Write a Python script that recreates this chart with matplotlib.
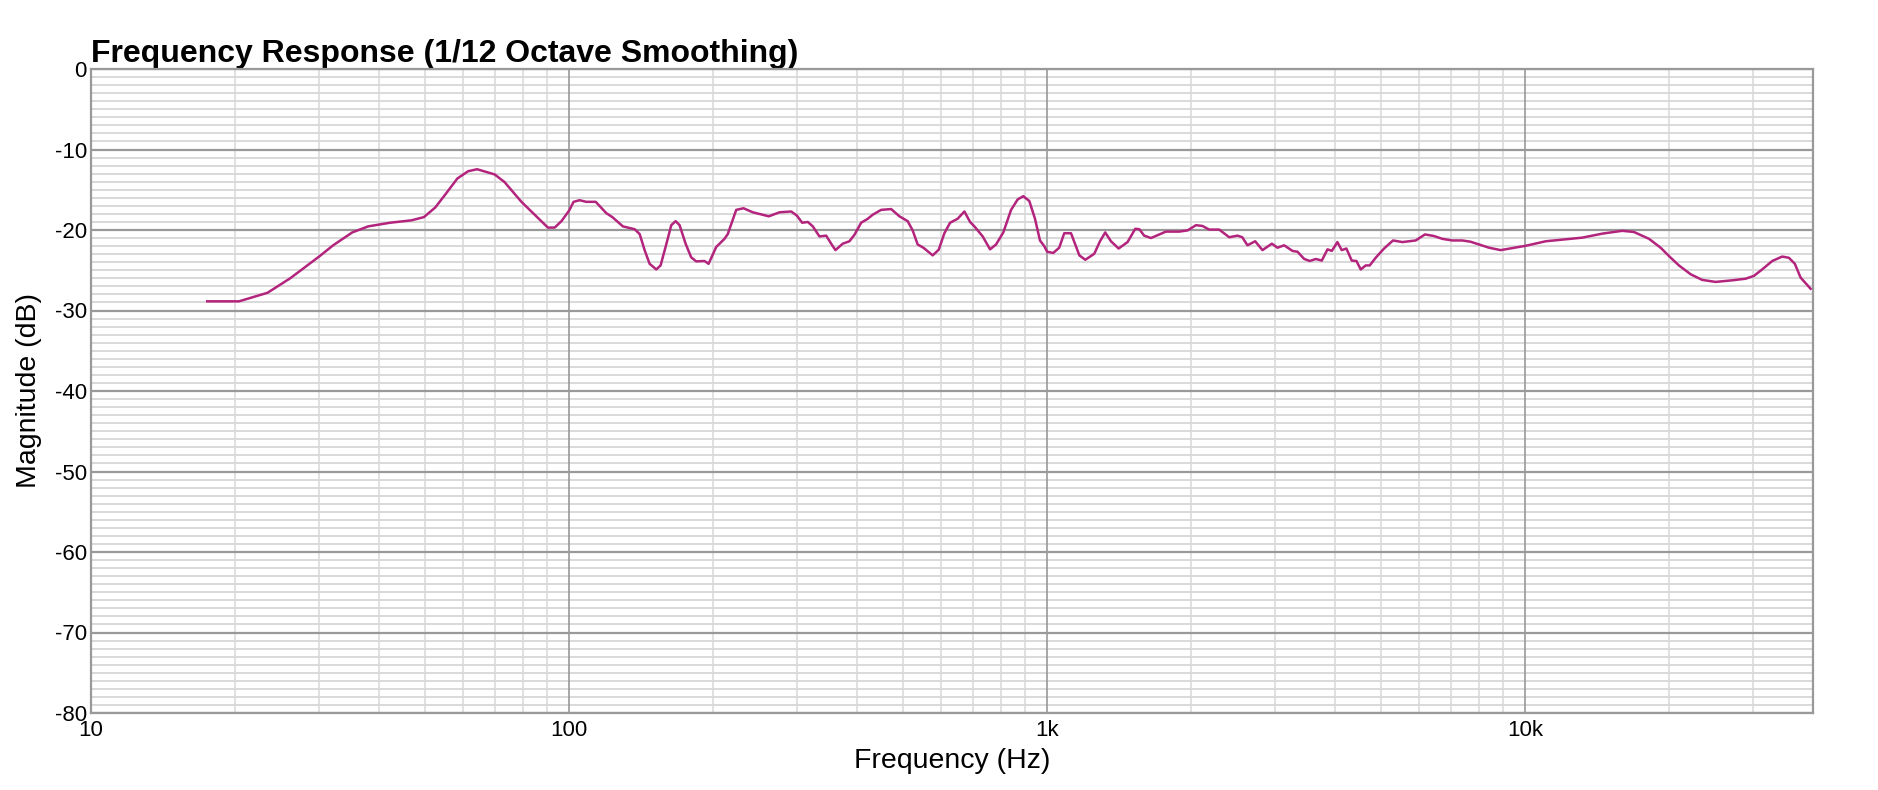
import matplotlib
matplotlib.use("Agg")
import matplotlib.pyplot as plt
from matplotlib.ticker import FixedLocator, MultipleLocator, LogLocator, FuncFormatter

plt.rcParams['font.family'] = ['Liberation Sans', 'DejaVu Sans']
plt.rcParams['axes.unicode_minus'] = False

# Frequency response (Hz, dB)
freq_hz = [17.5, 20.4, 23.4, 26.1, 30.0, 32.1, 35.2, 38.0, 42.2, 46.8,
           49.7, 52.5, 55.4, 58.4, 61.5, 64.2, 69.9, 73.3, 79.5, 85.4,
           90.3, 93.3, 96.4, 100, 102.2, 105.2, 108.6, 113.7, 119.6, 123.2,
           129.6, 137.1, 140.5, 143.9, 147.4, 152.2, 155.4, 159.2, 163.6, 167.1,
           170.3, 175.3, 180.1, 184.5, 192, 195.8, 203.2, 211.4, 214.8, 223.7,
           231.7, 242.3, 261.7, 275.6, 291.5, 299.5, 307.4, 315.8, 323.5, 334,
           345, 353.4, 360.8, 373.6, 385.9, 395.3, 408.3, 421.6, 431.8, 449.5,
           471.8, 491, 510.9, 523.3, 536.1, 551, 576.3, 593.3, 609.7, 626.6,
           650, 671.3, 690, 704.5, 733.2, 759.7, 781.9, 809.8, 840.6, 867.8,
           891.7, 917.8, 943.2, 966.2, 986.3, 1000, 1030, 1060, 1086, 1122,
           1168, 1202, 1255, 1290, 1323, 1360, 1411, 1473, 1529, 1559,
           1596, 1649, 1716, 1772, 1890, 1967, 2048, 2114, 2183, 2291,
           2404, 2502, 2560, 2625, 2724, 2821, 2952, 3033, 3132, 3260,
           3340, 3450, 3544, 3648, 3755, 3859, 3940, 4048, 4133, 4227,
           4337, 4436, 4529, 4640, 4730, 4867, 5068, 5291, 5536, 5902,
           6171, 6447, 6709, 7039, 7386, 7680, 8006, 8401, 8887, 9397,
           10045, 11040, 11960, 13170, 14500, 15970, 16890, 18160, 19200, 20080,
           20970, 22190, 23460, 25020, 27110, 28920, 30090, 31310, 32870, 34480,
           35610, 36650, 37670, 39540]
mag_db = [-28.86, -28.86, -27.8, -26.0, -23.3, -21.9, -20.3, -19.55, -19.1, -18.8,
          -18.4, -17.2, -15.4, -13.6, -12.7, -12.45, -13.1, -14.05, -16.5, -18.3,
          -19.7, -19.7, -18.9, -17.6, -16.5, -16.3, -16.5, -16.5, -17.9, -18.4,
          -19.55, -19.9, -20.5, -22.5, -24.2, -24.9, -24.4, -22.1, -19.4, -18.9,
          -19.4, -21.7, -23.4, -23.9, -23.85, -24.2, -22.1, -21.1, -20.5, -17.5,
          -17.3, -17.8, -18.3, -17.8, -17.7, -18.2, -19.1, -19.0, -19.55, -20.8,
          -20.7, -21.7, -22.5, -21.7, -21.4, -20.6, -19.1, -18.6, -18.1, -17.5,
          -17.4, -18.3, -18.9, -20.05, -21.8, -22.2, -23.15, -22.45, -20.4, -19.1,
          -18.6, -17.7, -19.0, -19.55, -20.8, -22.4, -21.8, -20.3, -17.5, -16.2,
          -15.8, -16.4, -18.6, -21.3, -22.0, -22.7, -22.85, -22.2, -20.4, -20.4,
          -23.15, -23.7, -22.95, -21.4, -20.3, -21.4, -22.3, -21.5, -19.85, -19.9,
          -20.7, -21.0, -20.55, -20.2, -20.2, -20.05, -19.4, -19.5, -19.95, -19.95,
          -20.9, -20.7, -20.9, -21.9, -21.4, -22.5, -21.7, -22.2, -21.9, -22.6,
          -22.7, -23.6, -23.85, -23.6, -23.8, -22.4, -22.6, -21.5, -22.5, -22.3,
          -23.8, -23.85, -24.9, -24.4, -24.4, -23.45, -22.3, -21.3, -21.5, -21.3,
          -20.55, -20.75, -21.1, -21.3, -21.3, -21.45, -21.8, -22.2, -22.5, -22.25,
          -21.95, -21.4, -21.2, -20.95, -20.45, -20.1, -20.25, -21.1, -22.2, -23.35,
          -24.4, -25.5, -26.2, -26.45, -26.25, -26.05, -25.7, -24.9, -23.85, -23.3,
          -23.45, -24.2, -25.9, -27.3]

x_ticks = [10, 100, 1000, 10000]
x_tick_labels = ['10', '100', '1k', '10k']
y_ticks = [0, -10, -20, -30, -40, -50, -60, -70, -80]

fig = plt.figure(figsize=(18.78, 7.9), dpi=100)
ax = fig.add_axes([91 / 1878, 1 - 713 / 790, 1722 / 1878, 644 / 790])

ax.plot(freq_hz, mag_db, color='#B3247D', lw=1.8, zorder=5)

ax.set_xscale('log')
ax.set_xlim(10, 40000)
ax.set_ylim(-80, 0)

ax.xaxis.set_major_locator(FixedLocator(x_ticks))
ax.xaxis.set_major_formatter(FuncFormatter(
    lambda v, p: x_tick_labels[x_ticks.index(int(round(v)))] if int(round(v)) in x_ticks else ''))
ax.xaxis.set_minor_locator(LogLocator(base=10, subs=range(2, 10), numticks=20))
ax.xaxis.set_minor_formatter(FuncFormatter(lambda v, p: ''))
ax.yaxis.set_major_locator(FixedLocator(y_ticks))
ax.yaxis.set_minor_locator(MultipleLocator(1))

# light minor grid from the axis, dark major lines drawn on top of it
ax.grid(which='minor', axis='y', color='#d9d9d9', lw=1.4)
ax.grid(which='minor', axis='x', color='#d9d9d9', lw=1.1)
ax.set_axisbelow(True)
for xt in x_ticks:
    ax.axvline(xt, color='#999999', lw=1.2, zorder=3)
for yt in y_ticks:
    ax.axhline(yt, color='#999999', lw=1.6, zorder=3)

ax.tick_params(which='both', length=0)
ax.tick_params(axis='y', pad=3, labelsize=16)
ax.tick_params(axis='x', pad=5, labelsize=16)

for s in ax.spines.values():
    s.set_color('#999999')
    s.set_linewidth(1.6)
    s.set_zorder(4)

ax.set_xlabel('Frequency (Hz)', fontsize=20.5, labelpad=5)
ax.set_ylabel('Magnitude (dB)', fontsize=20.5)
ax.yaxis.set_label_coords(-0.0285, 0.5)
ax.set_title('Frequency Response (1/12 Octave Smoothing)', loc='left',
             fontsize=23, fontweight='bold', pad=5)

fig.savefig('out.png', dpi=100)
